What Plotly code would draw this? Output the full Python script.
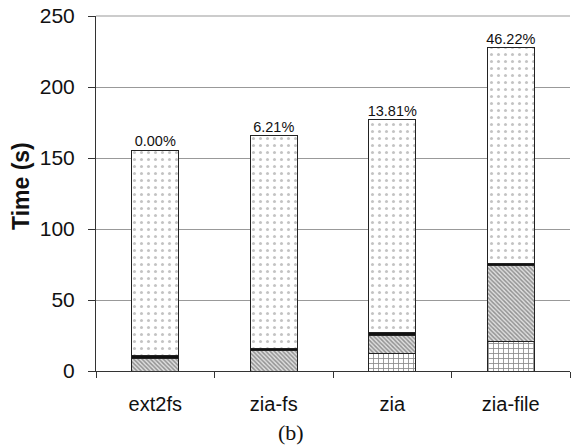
import plotly.graph_objects as go

categories = ["ext2fs", "zia-fs", "zia", "zia-file"]
seg_grid = [0, 0, 12.4, 20.6]
seg_diag = [9.0, 14.3, 12.9, 53.4]
seg_dark = [1.6, 1.5, 1.5, 1.4]
seg_dots = [145.0, 149.9, 150.0, 152.3]
pct_labels = ["0.00%", "6.21%", "13.81%", "46.22%"]
y_ticks = [0, 50, 100, 150, 200, 250]

totals = [a + b + c + d for a, b, c, d in zip(seg_grid, seg_diag, seg_dark, seg_dots)]

FONT = "Liberation Sans, Arial, sans-serif"
line = dict(color="#222", width=1)

fig = go.Figure()
fig.add_trace(go.Bar(x=categories, y=seg_grid, width=0.4,
                     marker=dict(color="white", line=line,
                                 pattern=dict(shape="+", fgcolor="#111", bgcolor="white", size=5, solidity=0.3))))
fig.add_trace(go.Bar(x=categories, y=seg_diag, width=0.4,
                     marker=dict(color="white", line=line,
                                 pattern=dict(shape="\\", fgcolor="#444", bgcolor="#e0e0e0", size=3, solidity=0.5))))
fig.add_trace(go.Bar(x=categories, y=seg_dark, width=0.4,
                     marker=dict(color="#111", line=line)))
fig.add_trace(go.Bar(x=categories, y=seg_dots, width=0.4,
                     marker=dict(color="white", line=line,
                                 pattern=dict(shape=".", fgcolor="#888", bgcolor="white", size=7, solidity=0.15))))
fig.add_trace(go.Scatter(x=categories, y=totals, mode="text", text=pct_labels,
                         textposition="top center",
                         textfont=dict(family=FONT, size=14.5, color="#111")))

# top gridline (plotly omits the grid line at the exact top of the range)
fig.add_shape(type="line", xref="paper", yref="paper", x0=0, x1=1, y0=1, y1=1,
              line=dict(color="#999", width=1), layer="above")

fig.update_layout(
    width=572, height=448,
    margin=dict(l=96, r=2, t=16, b=77),
    barmode="stack",
    showlegend=False,
    plot_bgcolor="white", paper_bgcolor="white",
    font=dict(family=FONT, color="#111"),
    xaxis=dict(type="category", showline=True, linecolor="#333", linewidth=1,
               ticks="outside", tickson="boundaries", ticklen=6, tickcolor="#333",
               tickfont=dict(size=20), ticklabelstandoff=15, showgrid=False),
    yaxis=dict(range=[0, 250], tickvals=y_ticks, showline=True, linecolor="#333", linewidth=1,
               ticks="outside", ticklen=7, tickcolor="#333",
               tickfont=dict(size=21), ticklabelstandoff=9,
               showgrid=True, gridcolor="#999", gridwidth=1, zeroline=False),
    annotations=[
        dict(text="<b>Time (s)</b>", x=-0.157, y=0.52, xref="paper", yref="paper",
             textangle=-90, showarrow=False, font=dict(size=23, family=FONT, color="#111"),
             xanchor="center", yanchor="middle"),
        dict(text="(b)", x=0.411, y=-0.172, xref="paper", yref="paper",
             showarrow=False, font=dict(size=22, family="Liberation Serif, Times New Roman, serif", color="#111"),
             xanchor="center", yanchor="middle"),
    ],
)

fig.write_html("out.html", config={"displayModeBar": False},
               post_script="document.body.style.margin='0';")
